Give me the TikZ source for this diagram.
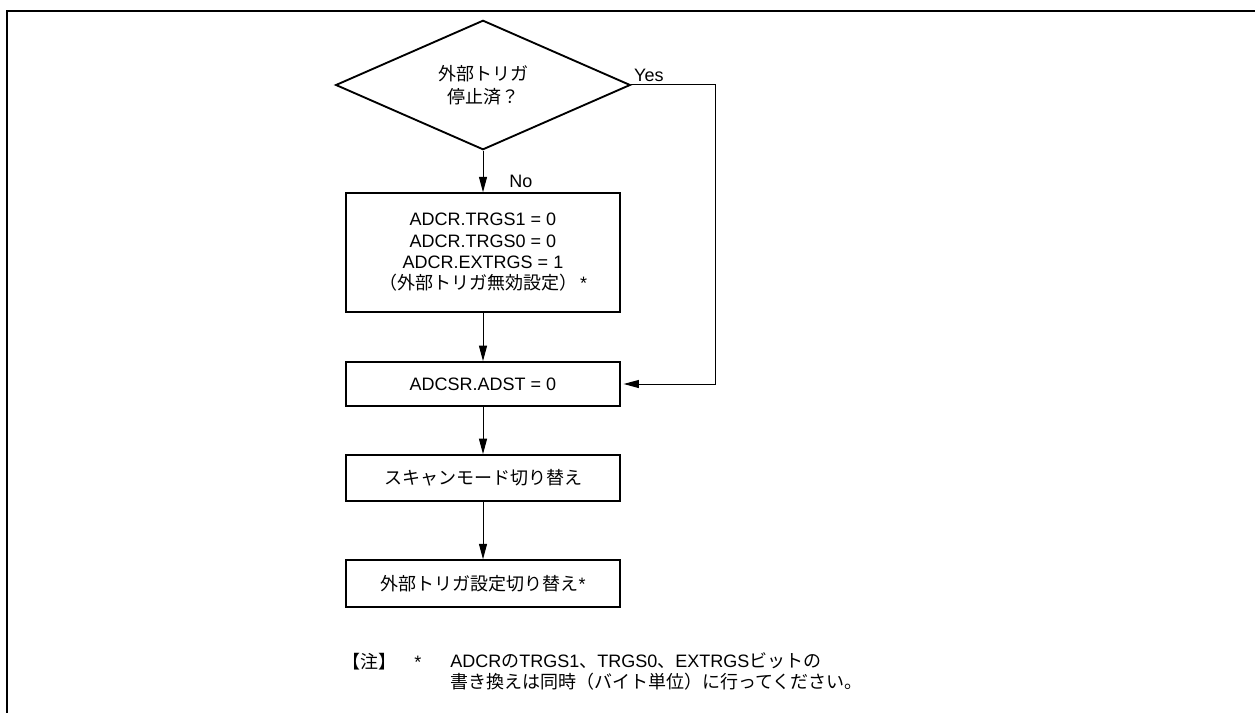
\documentclass[tikz,border=0pt]{standalone}
\usepackage{fontspec}
\setmainfont{Liberation Sans}
\newfontfamily\jpfont[Scale=1.0]{Noto Sans CJK JP}
\newcommand\ja[1]{{\jpfont #1}}
\usetikzlibrary{arrows.meta,shapes.geometric}

\begin{document}
\begin{tikzpicture}[x=0.75pt,y=-0.75pt,
  font=\fontsize{13.5pt}{16pt}\selectfont,
  box/.style={draw,line width=1.4pt,minimum width=205.5pt,inner sep=0pt,align=center},
  arr/.style={line width=0.75pt,-{Triangle[length=11.5pt,width=6pt]}},
  frm/.style={line width=2.2pt}]
  \useasboundingbox (0,0) rectangle (1255,713);
  \draw[frm] (7,713) -- (7,11) -- (1255,11);
  % flow
  \node[draw,line width=1.4pt,diamond,minimum width=221pt,minimum height=75pt,inner sep=0pt,align=center,
        font=\fontsize{13.5pt}{17pt}\selectfont] (chk) at (483,85) {\ja{外部トリガ}\\\ja{停止済？}};
  \node[box,minimum height=89pt,font=\fontsize{13.5pt}{16pt}\selectfont] (trg) at (483,252.5)
    {ADCR.TRGS1 = 0\\ADCR.TRGS0 = 0\\ADCR.EXTRGS = 1\\\ja{（外部トリガ無効設定）}\,*};
  \node[box,minimum height=33pt] (adst) at (483,384) {ADCSR.ADST = 0};
  \node[box,minimum height=34.5pt] (scan) at (483,478) {\ja{スキャンモード切り替え}};
  \node[box,minimum height=35pt] (ext) at (483,583.5) {\ja{外部トリガ設定切り替え}*};
  \coordinate (bend) at (715,0);
  \draw[arr] (chk.south) -- node[pos=0.74,right,xshift=16pt]{No} (trg.north);
  \draw[arr] (chk.east) -- (chk.east -| bend) |- ([xshift=2pt]adst.east);
  \node[above right,inner sep=2pt] (yes) at (chk.east) {Yes};
  \draw[arr] (trg) -- (adst);
  \draw[arr] (adst) -- (scan);
  \draw[arr] (scan) -- (ext);
  % note
  \node[anchor=west,inner sep=0pt] (nt) at (342,662) {\ja{【注】}};
  \node[anchor=west,inner sep=0pt] (ast) at (414,662) {*};
  \node[anchor=north west,inner sep=0pt,align=left] (txt) at (450,652)
    {ADCR\ja{の}TRGS1\ja{、}TRGS0\ja{、}EXTRGS\ja{ビットの}\\\ja{書き換えは同時（バイト単位）に行ってください。}};
\end{tikzpicture}
\end{document}
